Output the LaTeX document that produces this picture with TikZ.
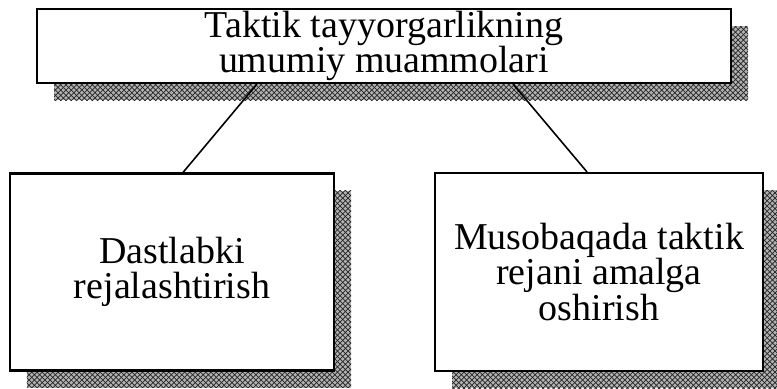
\documentclass[tikz,border=0pt]{standalone}
\usepackage{fontspec}
\setmainfont{Liberation Serif}
\usepackage{tikz}
\usetikzlibrary{shapes,arrows,calc,shadows,patterns}
\tikzstyle{line} = [draw, line width=0.9pt]
\tikzstyle{box} = [draw, rectangle, fill=white, line width=1.2pt, align=center, inner sep=0pt,
                   font=\fontsize{21.6}{20}\selectfont,
                   general shadow={shadow xshift=0.34cm, shadow yshift=-0.34cm, fill=black!30},
                   general shadow={shadow xshift=0.34cm, shadow yshift=-0.34cm,
                                   pattern=crosshatch, pattern color=black!85}]

\begin{document}
\begin{tikzpicture}[node distance = 4.52cm, auto]
        \useasboundingbox (0,0) rectangle (15.54,-7.76);
        \node[box, minimum width=13.88cm, minimum height=1.48cm] (problems) at (7.68,-0.92)
                {Taktik tayyorgarlikning\\%
                 umumiy muammolari};
        \node[box, below of=problems, xshift=-4.24cm, minimum width=6.48cm, minimum height=3.94cm] (plan)
                {Dastlabki\\%
                 rejalashtirish};
        \node[box, below of=problems, xshift=4.30cm, minimum width=6.56cm, minimum height=3.96cm] (realize)
                {Musobaqada taktik\\%
                 rejani amalga\\%
                 oshirish};
        \path[line] ([xshift=-2.54cm]problems.south) -- ([xshift=0.22cm]plan.north);
        \path[line] ([xshift=2.58cm]problems.south) -- ([xshift=-0.24cm]realize.north);
    \end{tikzpicture}
\end{document}
